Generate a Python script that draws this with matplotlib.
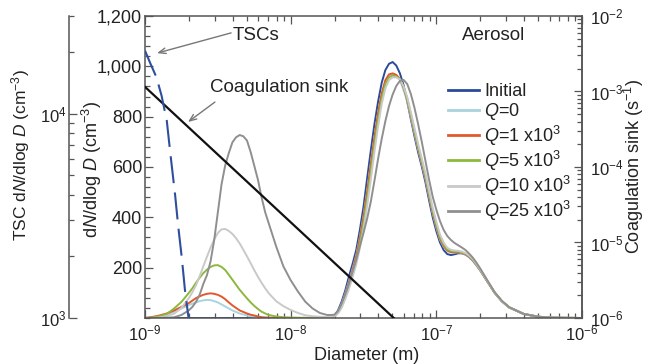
import numpy as np
import matplotlib
matplotlib.use("Agg")
import matplotlib.pyplot as plt
from matplotlib.ticker import LogLocator, FixedLocator, FixedFormatter, MultipleLocator, NullFormatter, LogFormatterSciNotation

plt.rcParams['font.family'] = ['Liberation Sans', 'DejaVu Sans']
plt.rcParams['mathtext.fontset'] = 'custom'
plt.rcParams['mathtext.rm'] = 'Liberation Sans'
plt.rcParams['mathtext.it'] = 'Liberation Sans:italic'
plt.rcParams['mathtext.bf'] = 'Liberation Sans:bold'

# ---------------- data ----------------
log_diam = [-9.00, -8.95, -8.90, -8.85, -8.80, -8.75, -8.70,
            -8.675, -8.65, -8.625, -8.60, -8.575, -8.55, -8.525, -8.50, -8.475, -8.45, -8.425,
            -8.40, -8.375, -8.35, -8.325, -8.30, -8.275, -8.25, -8.225, -8.20, -8.175, -8.15,
            -8.10, -8.05, -8.00, -7.95, -7.90, -7.85, -7.80, -7.75,
            -7.725, -7.70, -7.675, -7.65, -7.625, -7.60, -7.575, -7.55, -7.525, -7.50,
            -7.475, -7.45, -7.425, -7.40, -7.375, -7.35, -7.325, -7.30, -7.275, -7.25,
            -7.225, -7.20, -7.175, -7.15, -7.125, -7.10, -7.075, -7.05, -7.025, -7.00,
            -6.975, -6.95, -6.925, -6.90, -6.875, -6.85, -6.825, -6.80, -6.775, -6.75,
            -6.725, -6.70,
            -6.65, -6.60, -6.55, -6.50, -6.40, -6.30, -6.20, -6.00]

initial = [0, 0, 0, 0, 0, 0, 0,
           0, 0, 0, 0, 0, 0, 0, 0, 0, 0, 0, 0, 0, 0, 0, 0, 0, 0, 0, 0, 0, 0,
           0, 0, 0, 0, 0, 0, 0, 0,
           2, 8, 30, 65, 110, 165, 215, 270, 350, 442,
           555, 665, 770, 860, 935, 985, 1010, 1017, 1003, 972,
           925, 860, 790, 722, 658, 602, 540, 468, 400, 345,
           300, 270, 254, 250, 253, 257, 257, 252, 242, 228,
           210, 190,
           145, 100, 66, 42, 16, 5, 1, 0]
q0 = [0, 2, 6, 14, 25, 38, 51,
      57, 62, 67, 70, 72, 71, 67, 62, 54, 46, 38, 30, 24, 18, 14, 10, 6, 4, 3, 2, 1, 1,
      0, 0, 0, 0, 0, 0, 0, 1,
      2, 7, 25, 55, 98, 145, 195, 248, 320, 405,
      505, 615, 720, 815, 890, 940, 962, 968, 962, 945,
      905, 862, 798, 733, 670, 613, 553, 483, 416, 360,
      312, 283, 266, 260, 260, 261, 258, 253, 243, 229,
      211, 191,
      145, 100, 66, 42, 16, 5, 1, 0]
q1 = [0, 4, 10, 18, 30, 44, 59,
      69, 79, 86, 92, 96, 98, 96, 92, 85, 75, 62, 50, 40, 30, 24, 18, 13, 10, 6, 3, 2, 1,
      0, 0, 0, 0, 0, 0, 0, 1,
      2, 7, 24, 53, 95, 140, 190, 244, 315, 400,
      500, 610, 717, 815, 892, 945, 968, 972, 966, 950,
      915, 868, 806, 740, 676, 618, 558, 488, 421, 365,
      316, 286, 268, 262, 261, 262, 259, 254, 244, 230,
      212, 192,
      146, 101, 67, 42, 16, 5, 1, 0]
q5 = [0, 2, 7, 16, 38, 64, 99,
      118, 140, 160, 178, 192, 203, 209, 210, 203, 191, 172, 152, 132, 112, 95, 78, 62, 48, 36, 25, 18, 12,
      6, 3, 2, 1, 1, 1, 1, 1,
      2, 6, 21, 48, 88, 130, 178, 230, 298, 378,
      475, 582, 690, 790, 872, 930, 956, 963, 960, 950,
      918, 872, 810, 745, 682, 625, 565, 495, 428, 372,
      322, 292, 272, 266, 264, 264, 261, 256, 246, 232,
      213, 193,
      147, 101, 67, 42, 16, 5, 1, 0]
q10 = [0, 0, 2, 8, 17, 40, 78,
       102, 130, 166, 205, 243, 280, 312, 338, 352, 354, 346, 334, 317, 296, 271, 245, 218, 190, 164, 140, 118, 98,
       67, 47, 32, 20, 11, 7, 5, 4,
       4, 7, 18, 40, 75, 115, 162, 213, 278, 352,
       445, 550, 660, 762, 850, 912, 945, 956, 956, 948,
       920, 878, 818, 755, 692, 634, 575, 506, 438, 382,
       332, 300, 279, 271, 268, 267, 264, 258, 248, 234,
       215, 194,
       148, 102, 67, 42, 16, 5, 1, 0]
q25 = [0, 0, 0, 1, 3, 12, 30,
       44, 64, 92, 135, 170, 225, 310, 420, 530, 605, 655, 698, 718, 727, 722, 705, 660, 605, 550, 480, 420, 375,
       285, 205, 150, 105, 65, 38, 20, 12,
       12, 13, 28, 58, 95, 135, 185, 230, 285, 338,
       395, 462, 545, 632, 712, 782, 842, 888, 922, 942,
       946, 930, 890, 835, 770, 700, 625, 550, 482, 430,
       385, 350, 326, 310, 298, 289, 280, 270, 256, 240,
       220, 198,
       150, 103, 68, 43, 16, 5, 1, 0]

series_labels = ['Initial', r'$Q$=0', r'$Q$=1 x10$^3$', r'$Q$=5 x10$^3$',
                 r'$Q$=10 x10$^3$', r'$Q$=25 x10$^3$']
series_values = [initial, q0, q1, q5, q10, q25]
series_colors = ['#2b4a9a', '#a9d3df', '#e2572b', '#8cb83c', '#c9c9c9', '#8f8f8f']

tsc_diam = [1.00e-9, 1.08e-9, 1.20e-9, 1.30e-9, 1.41e-9, 1.49e-9, 1.61e-9,
            1.69e-9, 1.79e-9, 1.88e-9, 1.99e-9]
tsc_conc = [20300, 17800, 15000, 12200, 9250, 6450, 3980, 2810, 1960, 1370, 1000]

coag_diam = [1.0e-9, 5.1e-8]
coag_sink = [1.15e-3, 1.0e-6]

dn_ticks = [200, 400, 600, 800, 1000, 1200]
dn_tick_labels = ['200', '400', '600', '800', '1,000', '1,200']
x_decades = [1e-9, 1e-8, 1e-7, 1e-6]
x_decade_labels = [r'$10^{-9}$', r'$10^{-8}$', r'$10^{-7}$', r'$10^{-6}$']

for v in series_values:
    assert len(v) == len(log_diam), (len(v), len(log_diam))

# ---------------- figure ----------------
FS_TICK = 13
FS_LOG = 12
FS_LAB = 13
FS_TXT = 13.5
FS_LEG = 13
TXT = '#222222'
SPINE = '#555555'

fig = plt.figure(figsize=(6.5, 3.64), dpi=100)
ax = fig.add_axes([0.2231, 0.1264, 0.6723, 0.8297])

diam = 10 ** np.array(log_diam)
for vals, lab, col in zip(series_values, series_labels, series_colors):
    ax.plot(diam, vals, color=col, lw=1.4, label=lab)

ax.set_xscale('log')
ax.set_xlim(1e-9, 1e-6)
ax.set_ylim(0, 1200)
ax.yaxis.set_major_locator(FixedLocator(dn_ticks))
ax.yaxis.set_major_formatter(FixedFormatter(dn_tick_labels))
ax.yaxis.set_minor_locator(MultipleLocator(40))
ax.xaxis.set_major_locator(FixedLocator(x_decades))
ax.xaxis.set_major_formatter(FixedFormatter(x_decade_labels))
ax.xaxis.set_minor_locator(LogLocator(base=10, subs=np.arange(2, 10), numticks=20))
ax.xaxis.set_minor_formatter(NullFormatter())
ax.tick_params(which='both', direction='in', top=True, right=False,
               colors=SPINE, labelcolor=TXT, width=0.9)
ax.tick_params(axis='y', labelsize=FS_TICK, pad=2)
ax.tick_params(axis='x', labelsize=FS_LOG, pad=4)
ax.tick_params(which='major', length=6)
ax.tick_params(which='minor', length=3.5)
for s in ax.spines.values():
    s.set_color(SPINE)
    s.set_linewidth(1.1)

ax.set_xlabel('Diameter (m)', fontsize=FS_LAB, color=TXT)
ax.xaxis.set_label_coords(0.508, -0.097)
ax.set_ylabel(r'd$N$/dlog $D$ (cm$^{-3}$)', fontsize=FS_LAB, color=TXT)
ax.yaxis.set_label_coords(-0.094, 0.49)

leg = ax.legend(loc='upper left', bbox_to_anchor=(0.693, 0.777), frameon=False,
                fontsize=FS_LEG, handlelength=1.75, handletextpad=0.25,
                labelspacing=0.06, borderpad=0, borderaxespad=0)
for h in leg.get_lines():
    h.set_linewidth(2.0)
for t in leg.get_texts():
    t.set_color(TXT)

# coagulation sink axis (right)
ax2 = ax.twinx()
ax2.plot(coag_diam, coag_sink, color='#111111', lw=1.6)
ax2.set_yscale('log')
ax2.set_ylim(1e-6, 1e-2)
ax2.yaxis.set_major_locator(LogLocator(base=10, numticks=10))
ax2.yaxis.set_minor_locator(LogLocator(base=10, subs=np.arange(2, 10), numticks=20))
ax2.yaxis.set_major_formatter(LogFormatterSciNotation())
ax2.yaxis.set_minor_formatter(NullFormatter())
ax2.tick_params(which='both', direction='in', colors=SPINE, labelcolor=TXT,
                labelsize=FS_LOG, width=0.9, pad=5.5)
ax2.tick_params(which='major', length=6)
ax2.tick_params(which='minor', length=3.5)
for k, s in ax2.spines.items():
    s.set_visible(k == 'right')
    s.set_color(SPINE)
    s.set_linewidth(1.1)
ax2.set_ylabel(r'Coagulation sink (s$^{-1}$)', fontsize=FS_LAB, color=TXT)
ax2.yaxis.set_label_coords(1.091, 0.5)

# TSC axis (far left)
ax3 = ax.twinx()
ax3.plot(tsc_diam, tsc_conc, color='#2f4f9e', lw=1.5, linestyle=(0, (13, 4.5)))
ax3.set_yscale('log')
ax3.set_ylim(1e3, 3e4)
ax3.yaxis.tick_left()
ax3.yaxis.set_label_position('left')
ax3.spines['left'].set_position(('outward', 54.7))
for k, s in ax3.spines.items():
    s.set_visible(k == 'left')
    s.set_color(SPINE)
    s.set_linewidth(1.1)
ax3.yaxis.set_major_locator(LogLocator(base=10, numticks=10))
ax3.yaxis.set_minor_locator(LogLocator(base=10, subs=np.arange(2, 10), numticks=20))
ax3.yaxis.set_major_formatter(LogFormatterSciNotation())
ax3.yaxis.set_minor_formatter(NullFormatter())
ax3.tick_params(which='both', direction='in', colors=SPINE, labelcolor=TXT,
                labelsize=FS_LOG, width=0.9, pad=1.5)
ax3.tick_params(which='major', length=6)
ax3.tick_params(which='minor', length=3.5)
ax3.set_ylabel(r'TSC d$N$/dlog $D$ (cm$^{-3}$)', fontsize=12.5, color=TXT)
ax3.yaxis.set_label_coords(-0.259, 0.54)

# annotations
ax.text(0.201, 0.934, 'TSCs', transform=ax.transAxes, fontsize=FS_TXT, color=TXT,
        ha='left', va='center')
ax.text(0.149, 0.762, 'Coagulation sink', transform=ax.transAxes, fontsize=FS_TXT,
        color=TXT, ha='left', va='center')
ax.text(0.725, 0.937, 'Aerosol', transform=ax.transAxes, fontsize=FS_TXT, color=TXT,
        ha='left', va='center')
arrow_kw = dict(arrowstyle='->,head_length=0.5,head_width=0.2', color='#777777', lw=1.0,
                shrinkA=0, shrinkB=0)
ax.annotate('', xy=(0.0275, 0.877), xytext=(0.197, 0.944), xycoords='axes fraction',
            textcoords='axes fraction', arrowprops=arrow_kw)
ax.annotate('', xy=(0.0984, 0.649), xytext=(0.160, 0.715), xycoords='axes fraction',
            textcoords='axes fraction', arrowprops=arrow_kw)

fig.savefig('out.png', dpi=100)
